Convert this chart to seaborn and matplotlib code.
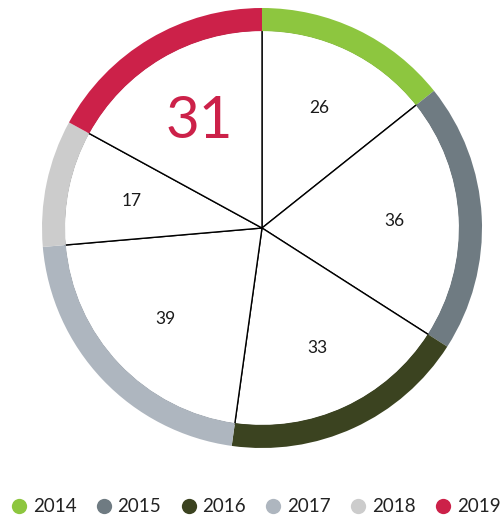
import matplotlib
matplotlib.use("Agg")
import matplotlib.pyplot as plt
from matplotlib.lines import Line2D
import seaborn as sns

years = ["2014", "2015", "2016", "2017", "2018", "2019"]
values = [26, 36, 33, 39, 17, 31]
ring_colors = ["#8dc63f", "#6f7b82", "#3b4320", "#aeb6bf", "#cccccc", "#cc2149"]

sns.set_theme(style="white")
plt.rcParams['font.family'] = ['Lato', 'DejaVu Sans']

fig = plt.figure(figsize=(5.01, 5.23), dpi=100)
ax = fig.add_axes([42 / 501, 75 / 523, 440 / 501, 440 / 523])

palette = sns.color_palette(ring_colors)
r_in = 0.9
lab_d = 0.67

# white inner wedges with thin black spokes
wedges, texts = ax.pie(values, radius=r_in, startangle=90, counterclock=False,
                       colors=["white"] * len(values), labels=[str(v) for v in values],
                       labeldistance=lab_d,
                       wedgeprops=dict(edgecolor="black", linewidth=1.0))
for t in texts:
    t.set_fontsize(12.5)
    t.set_color("#1a1a1a")
    t.set_ha("center")
    t.set_va("center")
# highlight latest year, a bit closer to the centre
texts[-1].set_fontsize(42)
texts[-1].set_color(ring_colors[-1])
x, y = texts[-1].get_position()
texts[-1].set_position((x * 0.93, y * 0.93))

# coloured outer ring
ax.pie(values, radius=1.0, startangle=90, counterclock=False, colors=palette,
       wedgeprops=dict(width=1.0 - r_in + 0.005, edgecolor="none"))

ax.set_xlim(-1, 1)
ax.set_ylim(-1, 1)
ax.set_aspect("equal")
ax.axis("off")

handles = [Line2D([0], [0], marker="o", linestyle="none", markersize=11,
                  markerfacecolor=c, markeredgecolor="none") for c in palette]
leg = fig.legend(handles, years, loc="center", ncol=6, frameon=False,
                 bbox_to_anchor=(0.51, 1 - 507 / 523), handletextpad=0.3,
                 columnspacing=1.0, handlelength=0.9, borderpad=0.1,
                 prop=dict(size=13.5))
for t in leg.get_texts():
    t.set_color("#222222")

fig.savefig("out.png", dpi=100)
